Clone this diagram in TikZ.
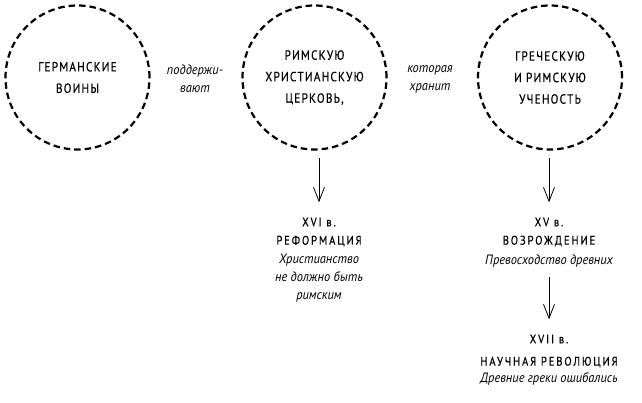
\documentclass[tikz,border=0pt]{standalone}
\usepackage{fontspec}
\setmainfont{PT Sans}
\newfontfamily\capsfont{PT Sans}[FakeStretch=0.85,LetterSpace=9,FakeBold=0.4]
\newfontfamily\widecaps{PT Sans}[FakeStretch=0.85,LetterSpace=15,FakeBold=0.4]
\newfontfamily\notefont{PT Sans}[FakeStretch=0.92]
\usetikzlibrary{arrows.meta}

\tikzset{
  circ/.style={circle, draw, line width=2.2pt, dash pattern=on 6.5pt off 4pt,
    minimum size=144pt, inner sep=0pt, align=center,
    font=\capsfont\fontsize{13.3}{21.5}\selectfont},
  verb/.style={inner sep=0pt, align=center,
    font=\notefont\itshape\fontsize{13.5}{18}\selectfont},
  era/.style={inner sep=0pt, font=\widecaps\fontsize{12.5}{14}\selectfont},
  note/.style={inner sep=0pt, align=center,
    font=\notefont\itshape\fontsize{13.5}{18}\selectfont},
  arr/.style={-{Straight Barb[length=14pt,width=11pt]}, line width=0.8pt},
}

\begin{document}
\begin{tikzpicture}[x=1pt, y=-1pt]
	\useasboundingbox (0,0) rectangle (642,403);
	
	%%%%% circles %%%%%
	\node[circ] (germ) at (77.5, 77.5) {ГЕРМАНСКИЕ\\ВОИНЫ};
	\node[circ] (rim) at (314.5, 77.5) {РИМСКУЮ\\ХРИСТИАНСКУЮ\\ЦЕРКОВЬ,};
	\node[circ] (grec) at (550, 77.5) {ГРЕЧЕСКУЮ\\И РИМСКУЮ\\УЧЕНОСТЬ};
	
	\node[verb] (podd) at (195, 79) {поддержи-\\вают};
	\node[verb] (kot) at (430, 79) {которая\\хранит};
	
	%%%%% left branch %%%%%
	\node[era] (xvi) at (319, 222) {XVI в.};
	\node[era] (reform) at (319, 241) {РЕФОРМАЦИЯ};
	\node[note] (reformtxt) at (319, 278) {Христианство\\не должно быть\\римским};
	
	%%%%% right branch %%%%%
	\node[era] (xv) at (549, 222) {XV в.};
	\node[era] (vozr) at (549, 241) {ВОЗРОЖДЕНИЕ};
	\node[note] (vozrtxt) at (549, 261) {Превосходство древних};
	
	\node[era] (xvii) at (549, 339) {XVII в.};
	\node[era] (nauch) at (549, 362) {НАУЧНАЯ РЕВОЛЮЦИЯ};
	\node[note] (nauchtxt) at (549, 379) {Древние греки ошибались};
	
	%%%%% arrows %%%%%
	\draw[arr, shorten <=7.5pt, shorten >=15pt] (rim.south -| xvi.north) -- (xvi.north);
	\draw[arr, shorten <=7.5pt, shorten >=15pt] (grec.south -| xv.north) -- (xv.north);
	\draw[arr, shorten <=10pt, shorten >=15pt] (vozrtxt.south) -- (xvii.north);
\end{tikzpicture}
\end{document}
